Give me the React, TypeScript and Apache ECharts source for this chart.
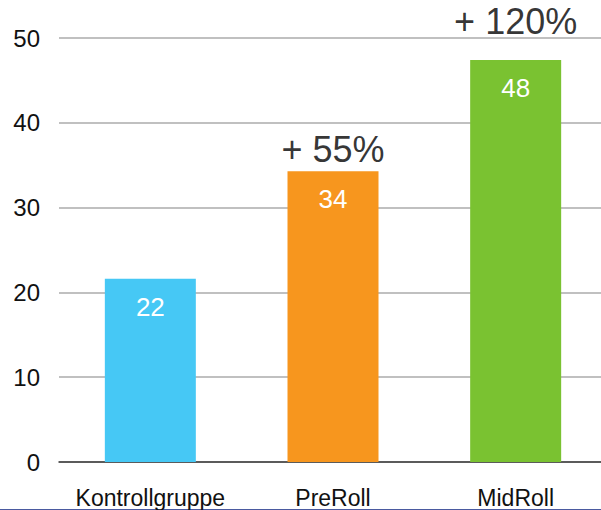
import React, { useEffect, useRef } from "react";
import * as echarts from "echarts";

const categories = ["Kontrollgruppe", "PreRoll", "MidRoll"];
const values = [21.6, 34.3, 47.4];
const valueLabels = ["22", "34", "48"];
const barColors = ["#46C8F5", "#F7961E", "#7AC231"];
const annotationCategories = [1, 2];
const annotationPositions = [36.9, 52.0];
const annotationTexts = ["+ 55%", "+ 120%"];
const yTicks = [0, 10, 20, 30, 40, 50];

const FONT = "'Liberation Sans', Arial, sans-serif";

export default function App() {
  const ref = useRef<HTMLDivElement>(null);
  useEffect(() => {
    if (!ref.current) return;
    const chart = echarts.init(ref.current, undefined, { renderer: "svg" });
    chart.setOption({
      animation: false,
      textStyle: { fontFamily: FONT },
      grid: { left: 59, right: 0, top: 38, bottom: 48, containLabel: false },
      xAxis: {
        type: "category",
        data: categories,
        axisLine: { show: true, lineStyle: { color: "#3a3a3a", width: 1.5 } },
        axisTick: { show: false },
        axisLabel: { color: "#111", fontSize: 23, margin: 24, interval: 0, hideOverlap: false, fontFamily: FONT },
      },
      yAxis: {
        type: "value",
        min: yTicks[0],
        max: yTicks[yTicks.length - 1],
        interval: 10,
        axisLine: { show: false },
        axisTick: { show: false },
        axisLabel: { color: "#111", fontSize: 24, margin: 19, fontFamily: FONT },
        splitLine: { lineStyle: { color: "#ababab", width: 1.5 } },
      },
      graphic: [
        {
          type: "line",
          shape: { x1: 0, y1: 509.5, x2: 601, y2: 509.5 },
          style: { stroke: "#4a5aa0", lineWidth: 1 },
        },
      ],
      series: [
        {
          type: "bar",
          barWidth: 91,
          data: values.map((v, i) => ({
            value: v,
            itemStyle: { color: barColors[i] },
            label: {
              show: true,
              position: "insideTop",
              distance: 15,
              formatter: valueLabels[i],
              color: "#fff",
              fontSize: 26,
              fontFamily: FONT,
            },
          })),
        },
        {
          type: "scatter",
          clip: false,
          symbolSize: 1,
          itemStyle: { color: "transparent" },
          silent: true,
          data: annotationCategories.map((c, i) => ({
            value: [c, annotationPositions[i]],
            label: {
              show: true,
              position: "inside",
              formatter: annotationTexts[i],
              color: "#000",
              textBorderWidth: 0,
              fontSize: 36,
              fontFamily: FONT,
            },
          })),
        },
      ],
    });
    return () => chart.dispose();
  }, []);
  return (
    <div style={{ position: "absolute", left: 0, top: 0, width: 601, height: 510, overflow: "hidden" }}>
      <div ref={ref} style={{ width: 607, height: 510 }} />
    </div>
  );
}
